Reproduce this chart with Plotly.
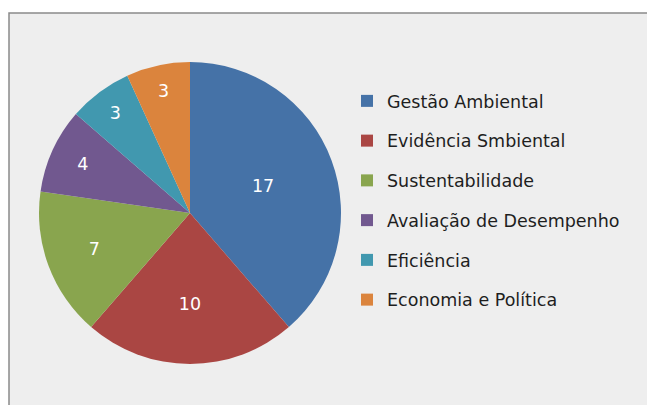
import plotly.graph_objects as go

categories = ["Gestão Ambiental", "Evidência Smbiental", "Sustentabilidade",
              "Avaliação de Desempenho", "Eficiência", "Economia e Política"]
values = [17, 10, 7, 4, 3, 3]
colors = ["#4572A7", "#AA4643", "#89A54E", "#71588F", "#4198AF", "#DB843D"]

W, H = 647, 405
fig = go.Figure()

fig.add_trace(go.Pie(
    labels=categories, values=values, sort=False, direction="clockwise",
    rotation=0, marker=dict(colors=colors, line=dict(width=0)),
    textinfo="value", textposition="inside", insidetextorientation="horizontal",
    textfont=dict(color="white", size=17.5, family="DejaVu Sans"),
    domain=dict(x=[39 / W, 341 / W], y=[(H - 364) / H, (H - 62) / H]),
    showlegend=False, hoverinfo="label+value",
))

for i, (c, col) in enumerate(zip(categories, colors)):
    fig.add_trace(go.Scatter(
        x=[None], y=[None], mode="markers", name=c, legendgroup=str(i),
        marker=dict(symbol="square", size=12, color=col),
    ))

fig.add_shape(type="rect", xref="paper", yref="paper",
              x0=9 / W, x1=1.05, y0=-0.05, y1=(H - 13) / H,
              line=dict(color="#8a8a8a", width=1.5), fillcolor="#eeeeee",
              layer="below")

fig.update_layout(
    width=W, height=H, margin=dict(l=0, r=0, t=0, b=0, autoexpand=False),
    paper_bgcolor="white", plot_bgcolor="rgba(0,0,0,0)",
    xaxis=dict(visible=False), yaxis=dict(visible=False),
    legend=dict(x=347 / W, y=(H - 83) / H, xanchor="left", yanchor="top",
                font=dict(size=17.5, family="DejaVu Sans", color="#1e1e1e"),
                tracegroupgap=14, bgcolor="rgba(0,0,0,0)", itemclick=False),
)

fig.write_html(
    "out.html",
    config={"displayModeBar": False},
    post_script="document.body.style.margin='0';document.body.style.overflow='hidden';",
)
